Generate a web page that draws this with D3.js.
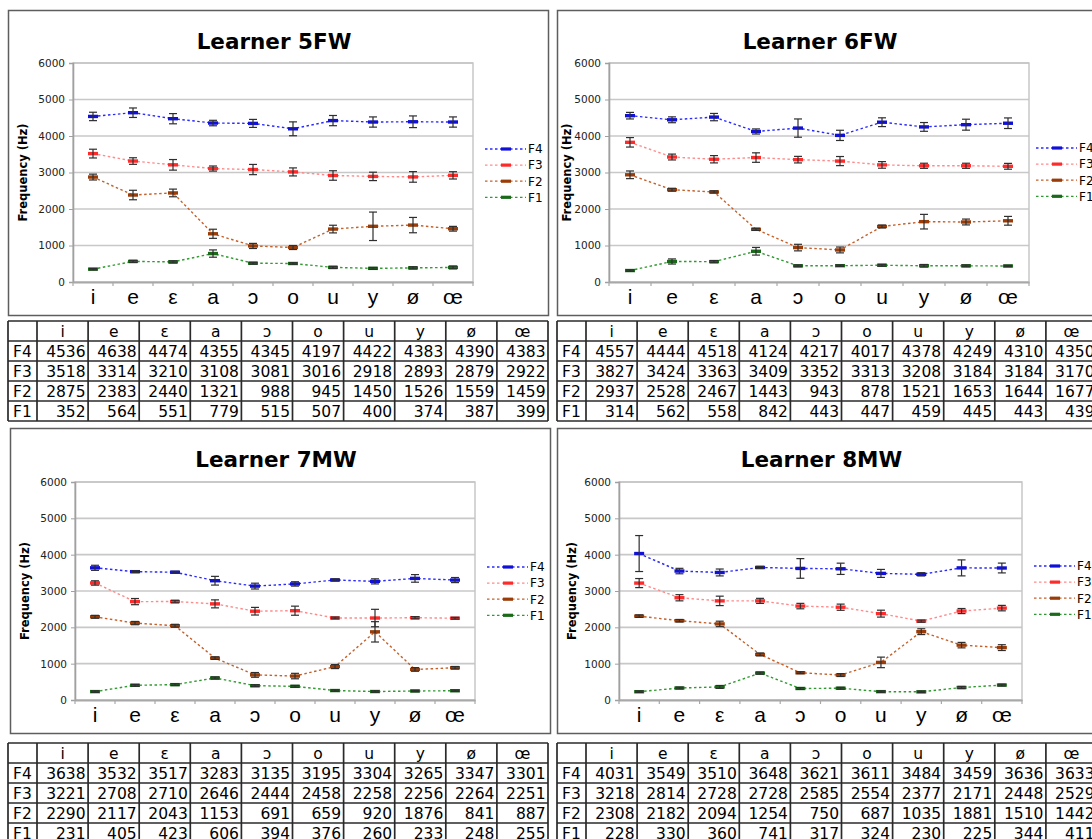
<!DOCTYPE html>
<html>
<head>
<meta charset="utf-8">
<script src="https://cdn.jsdelivr.net/npm/d3@7"></script>
<style>
  html, body { margin: 0; padding: 0; background: #fff; }
  svg { display: block; }
</style>
</head>
<body>
<svg id="chart" width="1092" height="839"></svg>
<script>
// ---------- DATA ----------
const vowels = ["i", "e", "ε", "a", "ɔ", "o", "u", "y", "ø", "œ"];
const formants = ["F4", "F3", "F2", "F1"];
const yTicks = [0, 1000, 2000, 3000, 4000, 5000, 6000];

// Learner 5FW
const L5FW_F4 = [4536, 4638, 4474, 4355, 4345, 4197, 4422, 4383, 4390, 4383];
const L5FW_F3 = [3518, 3314, 3210, 3108, 3081, 3016, 2918, 2893, 2879, 2922];
const L5FW_F2 = [2875, 2383, 2440, 1321, 988, 945, 1450, 1526, 1559, 1459];
const L5FW_F1 = [352, 564, 551, 779, 515, 507, 400, 374, 387, 399];
const L5FW_F4_err = [115, 130, 140, 75, 110, 190, 140, 140, 160, 140];
const L5FW_F3_err = [120, 90, 145, 70, 140, 110, 130, 115, 145, 100];
const L5FW_F2_err = [80, 130, 105, 125, 70, 55, 105, 390, 210, 65];
const L5FW_F1_err = [20, 30, 30, 100, 25, 20, 30, 25, 30, 40];

// Learner 6FW
const L6FW_F4 = [4557, 4444, 4518, 4124, 4217, 4017, 4378, 4249, 4310, 4350];
const L6FW_F3 = [3827, 3424, 3363, 3409, 3352, 3313, 3208, 3184, 3184, 3170];
const L6FW_F2 = [2937, 2528, 2467, 1443, 943, 878, 1521, 1653, 1644, 1677];
const L6FW_F1 = [314, 562, 558, 842, 443, 447, 459, 445, 443, 439];
const L6FW_F4_err = [90, 80, 100, 70, 250, 140, 120, 120, 150, 145];
const L6FW_F3_err = [130, 80, 100, 130, 90, 125, 90, 70, 70, 80];
const L6FW_F2_err = [105, 40, 30, 30, 90, 80, 40, 200, 80, 120];
const L6FW_F1_err = [20, 70, 30, 105, 25, 20, 25, 35, 25, 20];

// Learner 7MW
const L7MW_F4 = [3638, 3532, 3517, 3283, 3135, 3195, 3304, 3265, 3347, 3301];
const L7MW_F3 = [3221, 2708, 2710, 2646, 2444, 2458, 2258, 2256, 2264, 2251];
const L7MW_F2 = [2290, 2117, 2043, 1153, 691, 659, 920, 1876, 841, 887];
const L7MW_F1 = [231, 405, 423, 606, 394, 376, 260, 233, 248, 255];
const L7MW_F4_err = [70, 25, 25, 120, 80, 60, 30, 70, 105, 70];
const L7MW_F3_err = [60, 85, 35, 110, 105, 125, 25, 240, 30, 25];
const L7MW_F2_err = [40, 45, 40, 35, 65, 75, 55, 280, 50, 35];
const L7MW_F1_err = [20, 25, 25, 30, 25, 25, 20, 20, 20, 20];

// Learner 8MW
const L8MW_F4 = [4031, 3549, 3510, 3648, 3621, 3611, 3484, 3459, 3636, 3633];
const L8MW_F3 = [3218, 2814, 2728, 2728, 2585, 2554, 2377, 2171, 2448, 2529];
const L8MW_F2 = [2308, 2182, 2094, 1254, 750, 687, 1035, 1881, 1510, 1442];
const L8MW_F1 = [228, 330, 360, 741, 317, 324, 230, 225, 344, 411];
const L8MW_F4_err = [495, 75, 95, 30, 270, 155, 110, 45, 220, 135];
const L8MW_F3_err = [125, 85, 130, 70, 75, 85, 95, 30, 70, 75];
const L8MW_F2_err = [35, 35, 75, 40, 25, 40, 145, 80, 75, 80];
const L8MW_F1_err = [20, 25, 40, 30, 25, 25, 20, 20, 30, 25];

// ---------- STYLE / LAYOUT ----------
const seriesStyle = {
  F4: { line: "#2a2aff", mark: "#1010d8" },
  F3: { line: "#ff8a8a", mark: "#ff2a2a" },
  F2: { line: "#c4602a", mark: "#9a3c08" },
  F1: { line: "#2f9a2f", mark: "#1a6a1a" }
};

const panels = [
  { name: "5FW", data: { F4: L5FW_F4, F3: L5FW_F3, F2: L5FW_F2, F1: L5FW_F1 },
    err: { F4: L5FW_F4_err, F3: L5FW_F3_err, F2: L5FW_F2_err, F1: L5FW_F1_err },
    frame: [8, 10, 540, 305], plot: [73, 63, 400, 219], ylab: 23, legX: 485, legY: 149, table: [8, 321] },
  { name: "6FW", data: { F4: L6FW_F4, F3: L6FW_F3, F2: L6FW_F2, F1: L6FW_F1 },
    err: { F4: L6FW_F4_err, F3: L6FW_F3_err, F2: L6FW_F2_err, F1: L6FW_F1_err },
    frame: [557, 10, 540, 305], plot: [609, 63, 420, 219], ylab: 567, legX: 1036, legY: 148, table: [557, 321] },
  { name: "7MW", data: { F4: L7MW_F4, F3: L7MW_F3, F2: L7MW_F2, F1: L7MW_F1 },
    err: { F4: L7MW_F4_err, F3: L7MW_F3_err, F2: L7MW_F2_err, F1: L7MW_F1_err },
    frame: [10, 428, 540, 305], plot: [75, 482, 400, 218], ylab: 25, legX: 487, legY: 567, table: [8, 743] },
  { name: "8MW", data: { F4: L8MW_F4, F3: L8MW_F3, F2: L8MW_F2, F1: L8MW_F1 },
    err: { F4: L8MW_F4_err, F3: L8MW_F3_err, F2: L8MW_F2_err, F1: L8MW_F1_err },
    frame: [557, 428, 540, 305], plot: [619, 482, 403, 218], ylab: 572, legX: 1034, legY: 566, table: [557, 743] }
];

const svg = d3.select("#chart");
const FONT = "'DejaVu Sans', Verdana, sans-serif";

panels.forEach(p => {
  const g = svg.append("g");
  const [fx, fy, fw, fh] = p.frame;
  const [px, py, pw, ph] = p.plot;

  // frame
  g.append("rect").attr("x", fx + 0.5).attr("y", fy + 0.5).attr("width", fw).attr("height", fh)
    .attr("fill", "#fff").attr("stroke", "#5e5e5e").attr("stroke-width", 1.5);

  // title
  g.append("text").attr("x", px + pw / 2 + 1).attr("y", fy + 39)
    .attr("text-anchor", "middle").attr("font-family", FONT).attr("font-weight", "bold")
    .attr("font-size", 21.5).attr("fill", "#000").text("Learner " + p.name);

  const x = d3.scaleBand().domain(vowels).range([px, px + pw]);
  const cx = v => x(v) + x.bandwidth() / 2;
  const y = d3.scaleLinear().domain([0, 6000]).range([py + ph, py]);

  // gridlines
  g.append("g").selectAll("line").data(yTicks.filter(t => t > 0)).join("line")
    .attr("x1", px).attr("x2", px + pw).attr("y1", d => y(d)).attr("y2", d => y(d))
    .attr("stroke", "#c8c8c8").attr("stroke-width", 1.6);

  // plot border
  g.append("rect").attr("x", px).attr("y", py).attr("width", pw).attr("height", ph)
    .attr("fill", "none").attr("stroke", "#c4c4c4").attr("stroke-width", 1.4);

  // y axis
  const ya = g.append("g").attr("transform", `translate(${px},0)`)
    .call(d3.axisLeft(y).tickValues(yTicks).tickSize(4).tickPadding(4).tickFormat(d3.format("d")));
  ya.select(".domain").attr("stroke", "#a0a0a0").attr("stroke-width", 1.6);
  ya.selectAll(".tick line").attr("stroke", "#a0a0a0");
  ya.selectAll(".tick text").attr("font-family", FONT).attr("font-size", 10.5).attr("fill", "#222");

  // x axis
  const xa = g.append("g").attr("transform", `translate(0,${py + ph})`)
    .call(d3.axisBottom(x).tickSize(0).tickPadding(9));
  xa.select(".domain").attr("stroke", "#a8a8a8").attr("stroke-width", 1.8);
  xa.selectAll(".tick text").attr("font-family", "'Liberation Sans', Arial, sans-serif")
    .attr("font-size", 21).attr("fill", "#000").attr("dy", "0.62em");
  g.append("g").selectAll("line").data(vowels.map(v => x(v)).concat([px + pw])).join("line")
    .attr("x1", d => d).attr("x2", d => d).attr("y1", py + ph).attr("y2", py + ph + 4)
    .attr("stroke", "#a8a8a8").attr("stroke-width", 1.2);

  // y label
  g.append("text").attr("transform", `translate(${p.ylab},${py + ph / 2}) rotate(-90)`)
    .attr("text-anchor", "middle").attr("dy", "0.35em").attr("font-family", FONT)
    .attr("font-weight", "bold").attr("font-size", 11.5).attr("fill", "#000").text("Frequency (Hz)");

  // series
  formants.forEach(f => {
    const vals = p.data[f], errs = p.err[f], st = seriesStyle[f];
    const pts = vowels.map((v, i) => ({ v, val: vals[i], e: errs[i] }));
    const line = d3.line().x(d => cx(d.v)).y(d => y(d.val));
    g.append("path").datum(pts).attr("d", line).attr("fill", "none")
      .attr("stroke", st.line).attr("stroke-width", 1.4).attr("stroke-dasharray", "2.5,2.5");
    g.append("g").selectAll("rect").data(pts).join("rect")
      .attr("x", d => cx(d.v) - 5).attr("y", d => y(d.val) - 1.7).attr("width", 10).attr("height", 3.4)
      .attr("fill", st.mark);
    const eb = g.append("g").attr("stroke", "#2e2e2e").attr("stroke-width", 1.2);
    eb.selectAll("line.v").data(pts).join("line").attr("class", "v")
      .attr("x1", d => cx(d.v)).attr("x2", d => cx(d.v))
      .attr("y1", d => y(d.val - d.e)).attr("y2", d => y(d.val + d.e));
    eb.selectAll("line.t").data(pts).join("line").attr("class", "t")
      .attr("x1", d => cx(d.v) - 4).attr("x2", d => cx(d.v) + 4)
      .attr("y1", d => y(d.val + d.e)).attr("y2", d => y(d.val + d.e));
    eb.selectAll("line.b").data(pts).join("line").attr("class", "b")
      .attr("x1", d => cx(d.v) - 4).attr("x2", d => cx(d.v) + 4)
      .attr("y1", d => y(d.val - d.e)).attr("y2", d => y(d.val - d.e));
  });

  // legend
  formants.forEach((f, i) => {
    const st = seriesStyle[f];
    const ly = p.legY + i * 16.1;
    g.append("line").attr("x1", p.legX).attr("x2", p.legX + 41).attr("y1", ly).attr("y2", ly)
      .attr("stroke", st.line).attr("stroke-width", 1.3).attr("stroke-dasharray", "2.5,2.5");
    g.append("rect").attr("x", p.legX + 16).attr("y", ly - 1.6).attr("width", 10).attr("height", 3.2)
      .attr("fill", st.mark);
    g.append("text").attr("x", p.legX + 43).attr("y", ly).attr("dy", "0.36em")
      .attr("font-family", FONT).attr("font-size", 12).attr("fill", "#000").text(f);
  });

  // table
  const [tx, ty] = p.table;
  const firstW = 29, colW = 51.1, rowH = 20;
  const TFS = 15.5;
  const tg = svg.append("g");
  const cols = [tx].concat(d3.range(11).map(k => tx + firstW + k * colW));
  const rows = d3.range(6).map(k => ty + k * rowH);
  tg.append("rect").attr("x", tx).attr("y", ty).attr("width", firstW + 10 * colW).attr("height", 5 * rowH)
    .attr("fill", "#fff");
  tg.selectAll("line.c").data(cols).join("line").attr("class", "c")
    .attr("x1", d => d).attr("x2", d => d).attr("y1", ty).attr("y2", ty + 5 * rowH)
    .attr("stroke", "#2a2a2a").attr("stroke-width", 1.7);
  tg.selectAll("line.r").data(rows).join("line").attr("class", "r")
    .attr("x1", tx).attr("x2", tx + firstW + 10 * colW).attr("y1", d => d).attr("y2", d => d)
    .attr("stroke", "#2a2a2a").attr("stroke-width", 1.7);
  // header
  tg.selectAll("text.h").data(vowels).join("text").attr("class", "h")
    .attr("x", (d, i) => tx + firstW + (i + 0.5) * colW).attr("y", ty + rowH / 2 + 0.5)
    .attr("dy", "0.35em").attr("text-anchor", "middle").attr("font-family", FONT)
    .attr("font-size", TFS).attr("fill", "#000").text(d => d);
  formants.forEach((f, r) => {
    const rowY = ty + (r + 1) * rowH + rowH / 2 + 0.5;
    tg.append("text").attr("x", tx + firstW / 2).attr("y", rowY).attr("dy", "0.35em")
      .attr("text-anchor", "middle").attr("font-family", FONT).attr("font-size", TFS)
      .attr("fill", "#000").text(f);
    tg.append("g").selectAll("text").data(p.data[f]).join("text")
      .attr("x", (d, i) => tx + firstW + (i + 1) * colW - 2.5).attr("y", rowY).attr("dy", "0.35em")
      .attr("text-anchor", "end").attr("font-family", FONT).attr("font-size", TFS)
      .attr("fill", "#000").text(d => d);
  });
});
</script>
</body>
</html>
